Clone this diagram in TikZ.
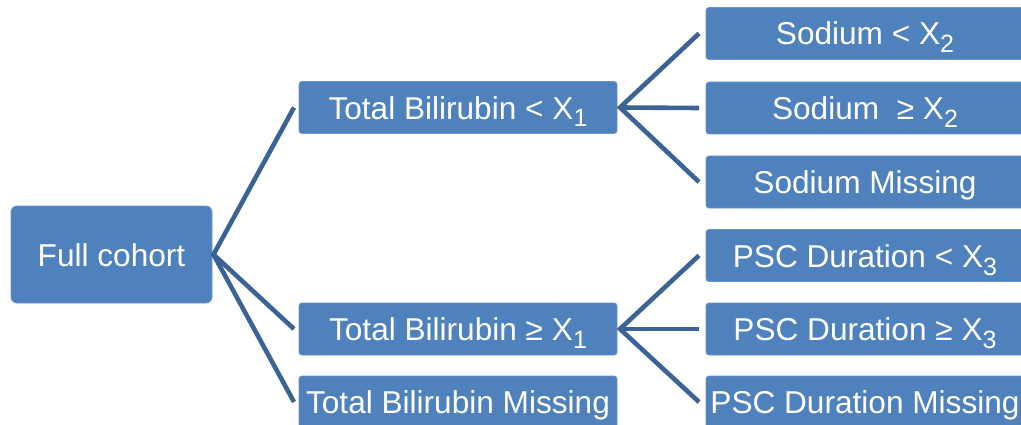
\documentclass[tikz,border=0pt]{standalone}
\usepackage{fontspec}
\setmainfont{Liberation Sans}
\definecolor{boxblue}{HTML}{4F81BD}
\definecolor{lineblue}{HTML}{3B6396}
\newcommand{\sbs}[1]{\raisebox{-8pt}{\fontsize{25}{25}\selectfont #1}}
\begin{document}
\begin{tikzpicture}[x=1pt,y=1pt,
  box/.style={fill=boxblue, draw=boxblue!85!white, line width=0.8pt, rounded corners=3pt,
    text=white, font=\fontsize{31.6}{31.6}\selectfont, minimum width=318pt, minimum height=52pt,
    text height=23pt, text depth=0pt,
    inner sep=0pt, outer sep=0pt, anchor=center},
  link/.style={draw=lineblue, line width=4.6pt}]
\useasboundingbox (0,0) rectangle (1021,424);
\node[box, minimum width=201pt, minimum height=97pt, rounded corners=6pt] (full) at (111.5,169.5) {Full cohort};
\node[box] (m1) at (458,316.5) {Total Bilirubin < X\sbs{1}};
\node[box] (m2) at (458,95) {Total Bilirubin ≥ X\sbs{1}};
\node[box] (m3) at (458,22) {Total Bilirubin Missing};
\node[box] (r1) at (865,390.5) {Sodium < X\sbs{2}};
\node[box] (r2) at (865,316) {Sodium \ ≥ X\sbs{2}};
\node[box] (r3) at (865,242) {Sodium Missing};
\node[box] (r4) at (865,168.5) {PSC Duration < X\sbs{3}};
\node[box] (r5) at (865,95) {PSC Duration ≥ X\sbs{3}};
\node[box] (r6) at (865,22) {PSC Duration Missing};
\coordinate (fa) at ([xshift=1.5pt]full.east);
\coordinate (ma) at ([xshift=3pt]m1.east);
\coordinate (mb) at ([xshift=3pt]m2.east);
\draw[link] ([xshift=-5pt]m1.west) -- (fa) -- ([xshift=-5pt]m2.west);
\draw[link] (fa) -- ([xshift=-5pt]m3.west);
\draw[link] ([xshift=-7pt]r1.west) -- (ma) -- ([xshift=-7pt]r3.west);
\draw[link] (ma) -- ([xshift=-7pt]r2.west);
\draw[link] ([xshift=-7pt]r4.west) -- (mb) -- ([xshift=-7pt]r6.west);
\draw[link] (mb) -- ([xshift=-7pt]r5.west);
\end{tikzpicture}
\end{document}
